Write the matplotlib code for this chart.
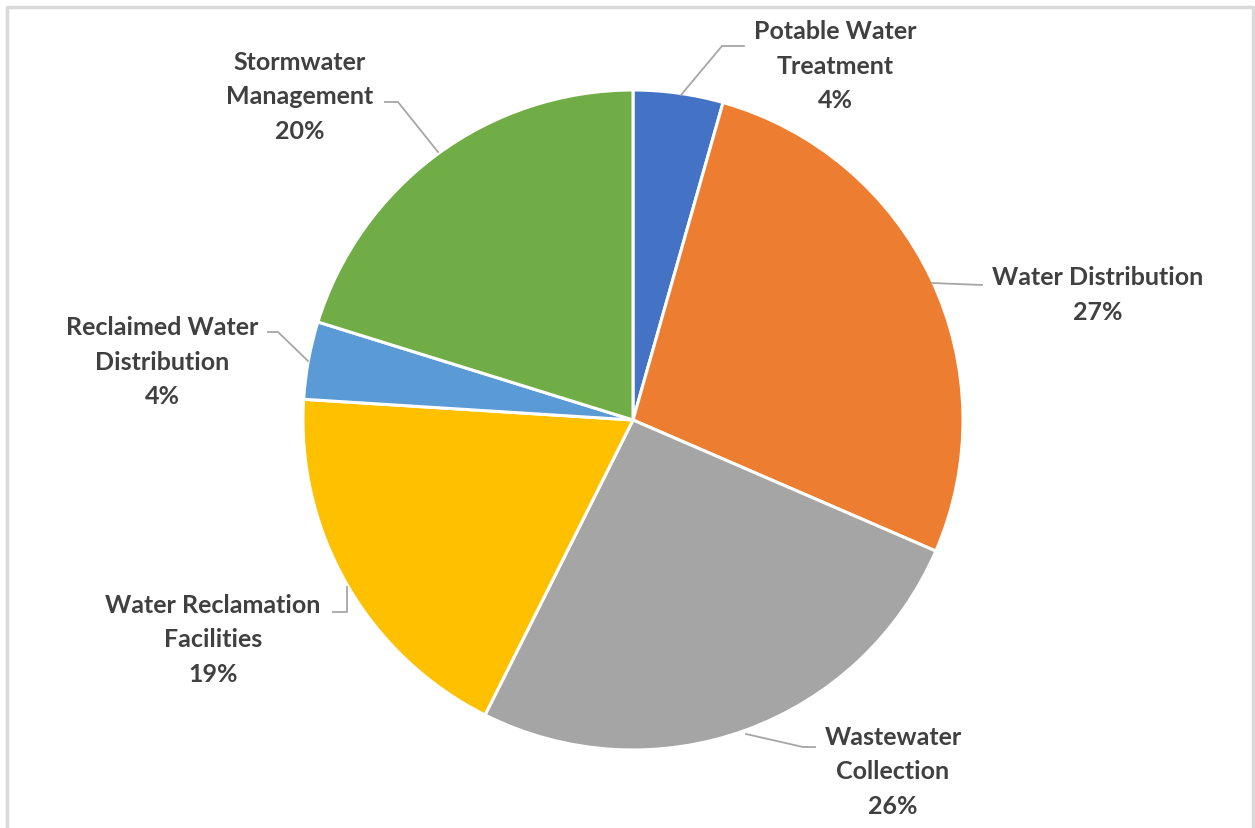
import matplotlib.pyplot as plt

# slice data, clockwise from 12 o'clock
categories = ['Potable Water\nTreatment', 'Water Distribution', 'Wastewater\nCollection',
              'Water Reclamation\nFacilities', 'Reclaimed Water\nDistribution', 'Stormwater\nManagement']
shares = [4.4, 27.1, 25.9, 18.6, 3.8, 20.2]
pct_labels = ['4%', '27%', '26%', '19%', '4%', '20%']
colors = ['#4472C4', '#ED7D31', '#A5A5A5', '#FFC000', '#5B9BD5', '#70AD47']

W, H = 1255, 829
fig = plt.figure(figsize=(W / 100, H / 100), dpi=100)
ax = fig.add_axes([0, 0, 1, 1])

# pixel layout (y measured from top in the reference, flipped here)
cx, cy, R = 633, H - 421, 330
ax.pie(shares, colors=colors, startangle=90, counterclock=False,
       center=(cx, cy), radius=R, frame=True,
       wedgeprops=dict(edgecolor='white', linewidth=2.2))
ax.set_xlim(0, W)
ax.set_ylim(0, H)
ax.set_aspect('equal')
ax.axis('off')

label_pos = [(835, 66), (1098, 295), (893, 772), (213, 640), (162, 362), (300, 97)]
leaders = [
    [(681, 96), (722, 47), (744, 47)],
    [(932, 284), (982, 286)],
    [(746, 735), (803, 748), (815, 748)],
    [(333, 613), (347, 613), (347, 588)],
    [(268, 333), (278, 333), (308, 362)],
    [(385, 103), (398, 103), (438, 153)],
]

for name, pct, (lx, ly), pts in zip(categories, pct_labels, label_pos, leaders):
    ax.text(lx, H - ly, f'{name}\n{pct}', ha='center', va='center', ma='center',
            fontsize=18, fontweight='bold', color='#404040', family='Lato',
            linespacing=1.6)
    xs = [p[0] for p in pts]
    ys = [H - p[1] for p in pts]
    ax.plot(xs, ys, color='#A6A6A6', lw=1.3)

# light chart frame
ax.plot([7, 7, 1253, 1253], [0, H - 8, H - 8, 0], color='#D9D9D9', lw=2.5,
        clip_on=False)

fig.savefig('out.png', dpi=100)
